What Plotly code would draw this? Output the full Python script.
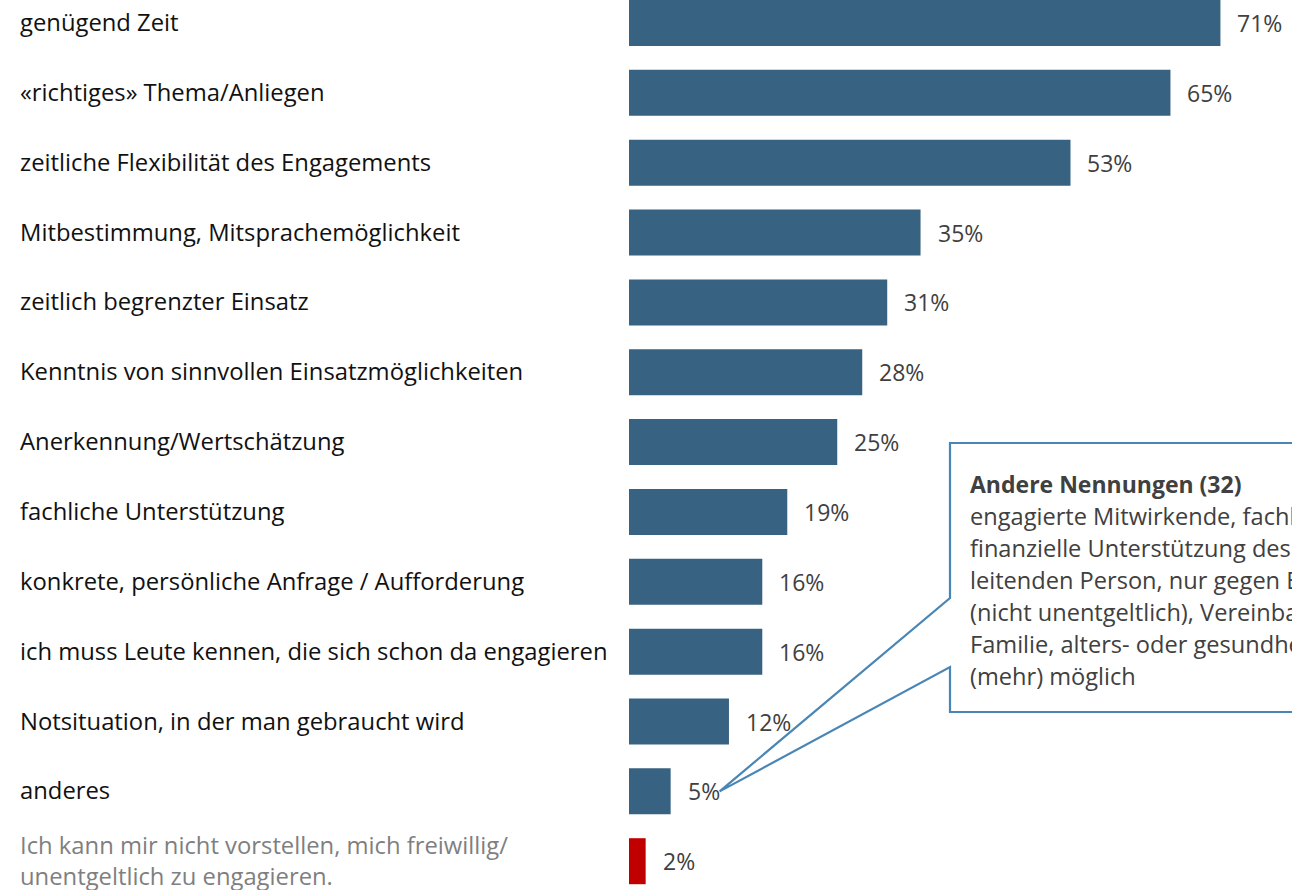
import plotly.graph_objects as go

categories = [
    "genügend Zeit",
    "«richtiges» Thema/Anliegen",
    "zeitliche Flexibilität des Engagements",
    "Mitbestimmung, Mitsprachemöglichkeit",
    "zeitlich begrenzter Einsatz",
    "Kenntnis von sinnvollen Einsatzmöglichkeiten",
    "Anerkennung/Wertschätzung",
    "fachliche Unterstützung",
    "konkrete, persönliche Anfrage / Aufforderung",
    "ich muss Leute kennen, die sich schon da engagieren",
    "Notsituation, in der man gebraucht wird",
    "anderes",
    "Ich kann mir nicht vorstellen, mich freiwillig/<br>unentgeltlich zu engagieren.",
]
values = [71, 65, 53, 35, 31, 28, 25, 19, 16, 16, 12, 5, 2]
value_labels = [f"{v}%" for v in values]

callout_title = "<b>Andere Nennungen (32)</b>"
callout_lines = [
    "engagierte Mitwirkende, fachliche und",
    "finanzielle Unterstützung des Vereins/der",
    "leitenden Person, nur gegen Bezahlung",
    "(nicht unentgeltlich), Vereinbarkeit mit Beruf/",
    "Familie, alters- oder gesundheitlich nicht",
    "(mehr) möglich",
]

W, H = 1292, 890
L = 629
PX_PER_PCT = 8.33
PITCH = 69.85
FIRST_CENTER = 23

BLUE = "#376282"
RED = "#c00000"
FONT = "Open Sans"
FS_CAT = 23.8
FS_VAL = 23
FS_BOX = 23.6

n = len(categories)
ypos = list(range(n))
colors = [BLUE] * (n - 1) + [RED]

fig = go.Figure(go.Bar(
    x=values, y=ypos, orientation="h",
    marker=dict(color=colors, line=dict(width=0)),
    width=46 / PITCH,
    hoverinfo="skip",
))

x_max = (W - L) / PX_PER_PCT
y_top = -FIRST_CENTER / PITCH
y_bot = (H - FIRST_CENTER) / PITCH

annotations = []
for i, cat in enumerate(categories):
    annotations.append(dict(
        x=(18 - L) / (W - L), xref="paper", y=i, yref="y", yshift=1,
        text=cat, showarrow=False, xanchor="left", yanchor="middle", align="left",
        font=dict(family=FONT, size=FS_CAT, color="#7f7f7f" if i == n - 1 else "#111111"),
    ))
    annotations.append(dict(
        x=values[i], xref="x", y=i, yref="y", xshift=15,
        text=value_labels[i], showarrow=False, xanchor="left", yanchor="middle",
        font=dict(family=FONT, size=FS_VAL, color="#404040"),
    ))

def px_x(px):
    return (px - L) / PX_PER_PCT

def px_y(py):
    return (py - FIRST_CENTER) / PITCH

for k, line in enumerate([callout_title] + callout_lines):
    annotations.append(dict(
        x=px_x(968), xref="x", y=px_y(484 + 32 * k), yref="y",
        text=line, showarrow=False, xanchor="left", yanchor="middle", align="left",
        font=dict(family=FONT, size=23 if k == 0 else FS_BOX, color="#404040"),
    ))

# callout shape, pointer to the "anderes" label
idx = categories.index("anderes")
tip_x = values[idx] + 49 / PX_PER_PCT
tip_y = idx
bx0, bx1 = px_x(950), px_x(1400)
by0, by1 = px_y(443), px_y(712)
pa, pb = px_y(598), px_y(667)
path = (f"M {bx0},{by0} L {bx0},{pa} L {tip_x},{tip_y} L {bx0},{pb} "
        f"L {bx0},{by1} L {bx1},{by1} L {bx1},{by0} Z")
shapes = [dict(type="path", path=path, xref="x", yref="y",
               line=dict(color="#4a86b5", width=2.2), fillcolor="rgba(0,0,0,0)", layer="above")]

fig.update_layout(
    width=W, height=H,
    margin=dict(l=L, r=0, t=0, b=0),
    paper_bgcolor="white", plot_bgcolor="white",
    showlegend=False,
    xaxis=dict(range=[0, x_max], visible=False, fixedrange=True),
    yaxis=dict(range=[y_bot, y_top], visible=False, fixedrange=True),
    annotations=annotations,
    shapes=shapes,
    font=dict(family=FONT),
)

fig.write_html(
    "out.html",
    config={"displayModeBar": False},
    post_script="document.body.style.margin='0';document.body.style.overflow='hidden';",
)
